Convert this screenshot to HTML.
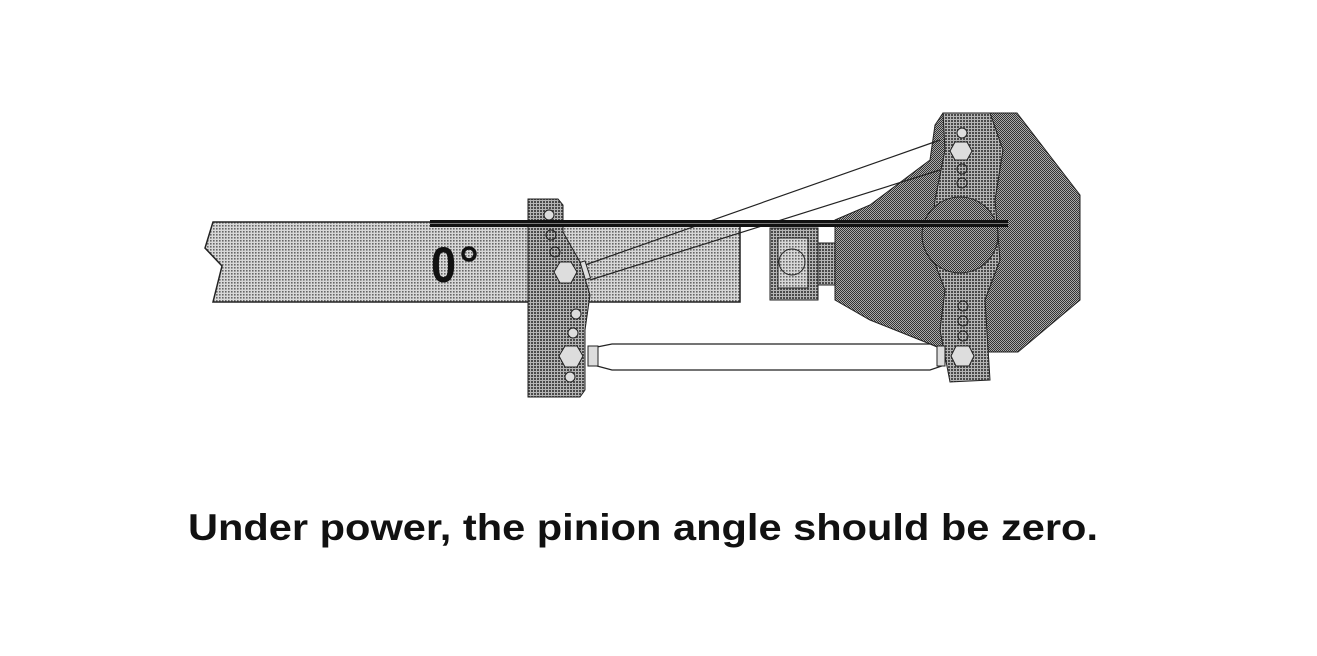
<!DOCTYPE html>
<html><head><meta charset="utf-8"><style>
html,body{margin:0;padding:0;background:#fff;}
svg{display:block;}
</style></head><body>
<svg width="1317" height="656" viewBox="0 0 1317 656" xmlns="http://www.w3.org/2000/svg">
<defs>
<pattern id="lt" width="3" height="3" patternUnits="userSpaceOnUse">
<rect width="3" height="3" fill="#d8d8d8"/><rect width="1.6" height="1.6" fill="#666"/></pattern>
<pattern id="md" width="3" height="3" patternUnits="userSpaceOnUse">
<rect width="3" height="3" fill="#b5b5b5"/><rect width="2" height="2" fill="#4a4a4a"/></pattern>
<pattern id="dk" width="2" height="2" patternUnits="userSpaceOnUse">
<rect width="2" height="2" fill="#aaa"/><rect width="1" height="1" fill="#333"/><rect x="1" y="1" width="1" height="1" fill="#333"/></pattern>
</defs>
<polygon points="213,222 740,222 740,302 213,302 222,266 205,248" fill="url(#lt)" stroke="#222" stroke-width="1.5"/>
<polygon points="943,113 1017,113 1080,195 1080,300 1018,352 990,352 945,350 870,320 835,300 835,220 870,205 930,160 935,125" fill="url(#dk)" stroke="#222" stroke-width="1"/>
<rect x="770" y="228" width="48" height="72" fill="url(#md)" stroke="#222"/>
<rect x="818" y="243" width="17" height="42" fill="url(#md)" stroke="#222"/>
<rect x="778" y="238" width="30" height="50" fill="url(#lt)" stroke="#222"/>
<circle cx="792" cy="262" r="13" fill="url(#lt)" stroke="#222"/>
<polygon points="943,113 990,113 1003,150 995,200 1000,260 985,300 990,380 950,382 940,330 945,290 930,250 935,200 945,150" fill="url(#md)" stroke="#222"/>
<circle cx="960" cy="235" r="38" fill="url(#dk)" stroke="#222"/>
<circle cx="962" cy="133" r="5" fill="#ddd" stroke="#222"/>
<polygon points="955,142 967,142 972,151 967,160 955,160 950,151" fill="#ddd" stroke="#222"/>
<circle cx="962" cy="169" r="5" fill="url(#md)" stroke="#222"/>
<circle cx="962" cy="183" r="5" fill="url(#md)" stroke="#222"/>
<circle cx="963" cy="306" r="5" fill="url(#md)" stroke="#222"/>
<circle cx="963" cy="321" r="5" fill="url(#md)" stroke="#222"/>
<circle cx="963" cy="336" r="5" fill="url(#md)" stroke="#222"/>
<polygon points="956,346 969,346 974,356 969,366 956,366 951,356" fill="#ddd" stroke="#222"/>
<line x1="585" y1="265" x2="940" y2="140" stroke="#222" stroke-width="1.2"/>
<line x1="590" y1="280" x2="940" y2="170" stroke="#222" stroke-width="1.2"/>
<rect x="578" y="262" width="10" height="18" fill="#ddd" stroke="#222" transform="rotate(-18 583 271)"/>
<path d="M597,347 L612,344 L930,344 L942,349 L942,366 L930,370 L612,370 L597,366 Z" fill="#fff" stroke="#222" stroke-width="1.2"/>
<rect x="588" y="346" width="10" height="20" fill="#ddd" stroke="#222"/>
<rect x="937" y="346" width="8" height="20" fill="#ddd" stroke="#222"/>
<polygon points="528,199 558,199 563,205 563,232 580,262 590,295 585,330 585,390 580,397 528,397" fill="url(#md)" stroke="#222"/>
<circle cx="549" cy="215" r="5" fill="#ddd" stroke="#222"/>
<circle cx="551" cy="235" r="5" fill="url(#md)" stroke="#222"/>
<circle cx="555" cy="252" r="5" fill="url(#md)" stroke="#222"/>
<polygon points="560,262 571,262 577,272 571,283 560,283 554,272" fill="#ddd" stroke="#222"/>
<circle cx="576" cy="314" r="5" fill="#ddd" stroke="#222"/>
<circle cx="573" cy="333" r="5" fill="#ddd" stroke="#222"/>
<polygon points="565,346 577,346 583,356 577,367 565,367 559,356" fill="#ddd" stroke="#222"/>
<circle cx="570" cy="377" r="5" fill="#ddd" stroke="#222"/>
<rect x="430" y="220" width="578" height="7" fill="#111"/>
<line x1="430" y1="223.5" x2="1008" y2="223.5" stroke="#777" stroke-width="1"/>
<text x="431" y="282" font-family="Liberation Sans, sans-serif" font-weight="bold" font-size="50" fill="#111" transform="translate(431 282) scale(0.9 1) translate(-431 -282)">0</text>
<circle cx="469" cy="254" r="6" fill="none" stroke="#111" stroke-width="3.5"/>
<text x="188" y="540" font-family="Liberation Sans, sans-serif" font-weight="bold" font-size="37" fill="#111" textLength="910" lengthAdjust="spacingAndGlyphs">Under power, the pinion angle should be zero.</text>
</svg>
</body></html>
